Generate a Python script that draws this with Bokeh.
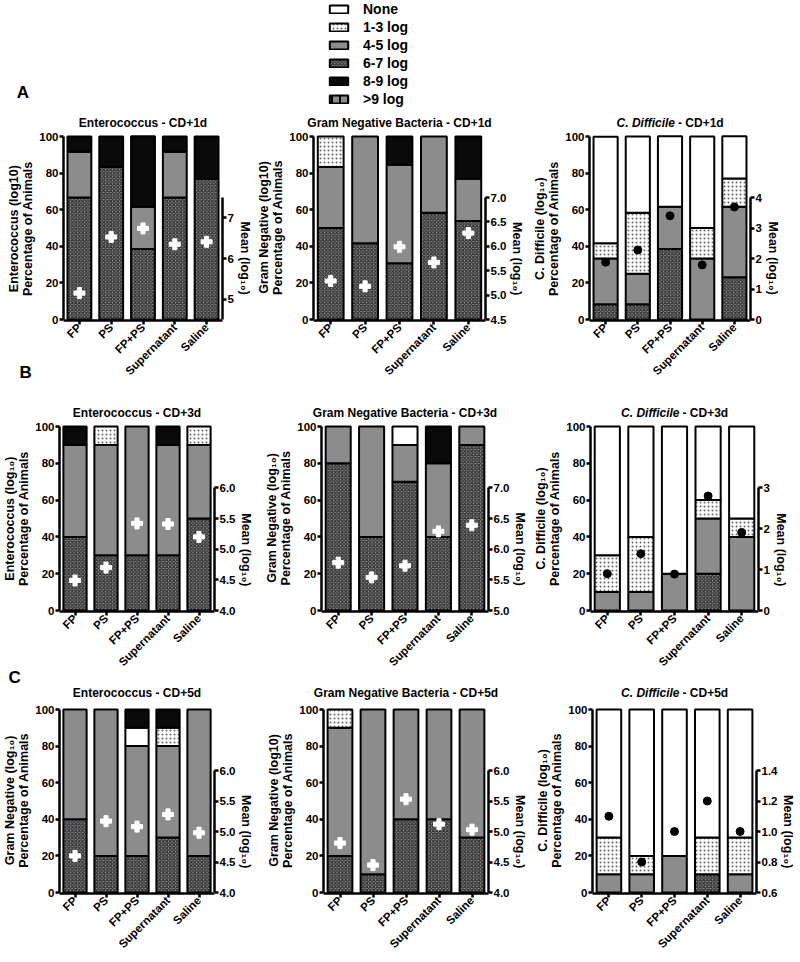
import math
from bokeh.plotting import figure
from bokeh.models import (FactorRange, Range1d, LinearAxis, FixedTicker, Label,
                          Legend, LegendItem, Title)
from bokeh.layouts import column, row
from bokeh.embed import file_html
from bokeh.resources import INLINE

# ---------------- data ----------------
cats = ["FP", "PS", "FP+PS", "Supernatant", "Saline"]
legend_labels = ["None", "1-3 log", "4-5 log", "6-7 log", "8-9 log", ">9 log"]
stack_order = ["6-7 log", "4-5 log", "1-3 log", "None", "8-9 log"]
pct_ticks = [0, 20, 40, 60, 80, 100]

# Row A  (CD+1d)
A1_s67 = [66.7, 83.3, 38.5, 66.7, 76.9]
A1_s45 = [25.0, 0, 23.1, 25.0, 0]
A1_s89 = [8.3, 16.7, 38.5, 8.3, 23.1]
A1_mean = [5.15, 6.53, 6.74, 6.35, 6.41]
A1_ticks = [5, 6, 7]
A1_tick_labels = ["5", "6", "7"]

A2_s67 = [50.0, 41.7, 30.8, 58.3, 53.8]
A2_s45 = [33.3, 58.3, 53.8, 41.7, 23.1]
A2_s13 = [16.7, 0, 0, 0, 0]
A2_s89 = [0, 0, 15.4, 0, 23.1]
A2_mean = [5.29, 5.18, 5.99, 5.67, 6.27]
A2_ticks = [4.5, 5.0, 5.5, 6.0, 6.5, 7.0]
A2_tick_labels = ["4.5", "5.0", "5.5", "6.0", "6.5", "7.0"]

A3_s67 = [8.3, 8.3, 38.5, 0, 23.1]
A3_s45 = [25.0, 16.7, 23.1, 33.3, 38.5]
A3_s13 = [8.3, 33.3, 0, 16.7, 15.4]
A3_none = [58.3, 41.7, 38.5, 50.0, 23.1]
A3_mean = [1.88, 2.28, 3.40, 1.79, 3.69]
A3_ticks = [0, 1, 2, 3, 4]
A3_tick_labels = ["0", "1", "2", "3", "4"]

# Row B  (CD+3d)
B1_s67 = [40, 30, 30, 30, 50]
B1_s45 = [50, 60, 70, 60, 40]
B1_s13 = [0, 10, 0, 0, 10]
B1_s89 = [10, 0, 0, 10, 0]
B1_mean = [4.49, 4.70, 5.42, 5.41, 5.20]
B1_ticks = [4.0, 4.5, 5.0, 5.5, 6.0]
B1_tick_labels = ["4.0", "4.5", "5.0", "5.5", "6.0"]

B2_s67 = [80, 40, 70, 40, 90]
B2_s45 = [20, 60, 20, 40, 10]
B2_none = [0, 0, 10, 0, 0]
B2_s89 = [0, 0, 0, 20, 0]
B2_mean = [5.78, 5.54, 5.73, 6.29, 6.39]
B2_ticks = [5.0, 5.5, 6.0, 6.5, 7.0]
B2_tick_labels = ["5.0", "5.5", "6.0", "6.5", "7.0"]

B3_s67 = [0, 0, 0, 20, 0]
B3_s45 = [10, 10, 20, 30, 40]
B3_s13 = [20, 30, 0, 10, 10]
B3_none = [70, 60, 80, 40, 50]
B3_mean = [0.90, 1.39, 0.89, 2.80, 1.91]
B3_ticks = [0, 1, 2, 3]
B3_tick_labels = ["0", "1", "2", "3"]

# Row C  (CD+5d)
C1_s67 = [40, 20, 20, 30, 20]
C1_s45 = [60, 80, 60, 50, 80]
C1_s13 = [0, 0, 0, 10, 0]
C1_none = [0, 0, 10, 0, 0]
C1_s89 = [0, 0, 10, 10, 0]
C1_mean = [4.60, 5.17, 5.08, 5.28, 4.98]
C1_ticks = [4.0, 4.5, 5.0, 5.5, 6.0]
C1_tick_labels = ["4.0", "4.5", "5.0", "5.5", "6.0"]

C2_s67 = [20, 10, 40, 40, 30]
C2_s45 = [70, 90, 60, 60, 70]
C2_s13 = [10, 0, 0, 0, 0]
C2_mean = [4.81, 4.45, 5.53, 5.12, 5.03]
C2_ticks = [4.0, 4.5, 5.0, 5.5, 6.0]
C2_tick_labels = ["4.0", "4.5", "5.0", "5.5", "6.0"]

C3_s67 = [0, 0, 0, 10, 0]
C3_s45 = [10, 10, 20, 0, 10]
C3_s13 = [20, 10, 0, 20, 20]
C3_none = [70, 80, 80, 70, 70]
C3_mean = [1.10, 0.80, 1.00, 1.20, 1.00]
C3_ticks = [0.6, 0.8, 1.0, 1.2, 1.4]
C3_tick_labels = ["0.6", "0.8", "1.0", "1.2", "1.4"]

# ---------------- style ----------------
FONT = "Liberation Sans"
GRAY = "#8c8c8c"
LABEL_PX = 12.5
NBSP = "\u00a0"
STY = {
    "None": dict(fill_color="white"),
    "1-3 log": dict(fill_color="white", hatch_pattern=".", hatch_color="#222222",
                    hatch_alpha=0.7, hatch_scale=4, hatch_weight=0.6),
    "4-5 log": dict(fill_color=GRAY),
    "6-7 log": dict(fill_color=GRAY, hatch_pattern="x", hatch_color="#1e1e1e",
                    hatch_scale=3.5, hatch_weight=1.0),
    "8-9 log": dict(fill_color="#0a0a0a"),
    ">9 log": dict(fill_color=GRAY, hatch_pattern="|", hatch_color="black",
                   hatch_scale=8, hatch_weight=2),
}


def pad(px):
    return NBSP * max(0, int(round(px / (0.278 * LABEL_PX))))


def style_axis(ax):
    ax.axis_line_width = 2.5
    ax.axis_line_color = "black"
    ax.major_tick_line_width = 2.5
    ax.major_tick_line_color = "black"
    ax.major_tick_out = 4
    ax.major_tick_in = 0
    ax.minor_tick_line_color = None
    ax.major_label_text_font = FONT
    ax.major_label_text_font_style = "bold"
    ax.major_label_text_font_size = "11.5px"
    ax.major_label_text_color = "black"
    ax.major_label_standoff = 1
    ax.axis_label_text_font = FONT
    ax.axis_label_text_font_style = "bold"
    ax.axis_label_text_font_size = "%gpx" % LABEL_PX
    ax.axis_label_text_color = "black"
    ax.axis_label_standoff = 1
    ax.axis_label_text_line_height = 1.0


def make_panel(layers, means, white_marker, lo, hi, ticks, tick_labels,
               label_lines, title_main, title_italic, geom, rowg, mode):
    w, bl, br = geom
    fig_top, fig_h, y100, y0, ytitle, ftop_ext = rowg
    ppu = (y0 - y100) / 100.0
    ftop = ftop_ext if mode == "label" else y100 - 2
    bt = ftop - fig_top
    fbot = y0 + 1
    h_frame = fbot - ftop
    y_start = -1.0 / ppu
    y_end = 100.0 + (y100 - ftop) / ppu
    p = figure(width=w, height=fig_h, x_range=FactorRange(factors=cats),
               y_range=Range1d(y_start, y_end), output_backend="svg",
               toolbar_location=None, title=None,
               min_border_left=bl, min_border_right=br,
               min_border_top=bt, min_border_bottom=fig_h - bt - h_frame)
    if "frame_align" in p.properties():
        p.frame_align = False
    p.outline_line_color = None
    p.grid.visible = False
    p.border_fill_alpha = 0
    p.background_fill_alpha = 0
    k = (hi - lo) / (200.0 / 3.0)
    p.extra_y_ranges = {"mean": Range1d(lo + y_start * k, lo + y_end * k)}

    base = [0.0] * len(cats)
    for name in stack_order:
        vals = layers.get(name)
        if vals is None:
            continue
        top = [b + v for b, v in zip(base, vals)]
        xs = [c for c, v in zip(cats, vals) if v > 0]
        bs = [b for b, v in zip(base, vals) if v > 0]
        ts = [t for t, v in zip(top, vals) if v > 0]
        if xs:
            p.vbar(x=xs, bottom=bs, top=ts, width=0.75, line_color="black",
                   line_width=2, **STY[name])
        base = top

    if white_marker:
        p.scatter(x=cats, y=means, y_range_name="mean", marker="plus", size=11,
                  fill_color="white", line_color="white", line_width=1)
    else:
        p.scatter(x=cats, y=means, y_range_name="mean", marker="circle", size=8,
                  fill_color="black", line_color="black")

    # centre the axis labels on the drawn axis spans, not on the (taller) frame
    fc = (ftop + fbot) / 2.0
    lc = (y100 + y0) / 2.0
    rc = y0 - (y0 - y100) / 3.0
    lpad = pad(2 * (lc - fc))
    rpad = pad(2 * (rc - fc))

    ya = p.yaxis[0]
    style_axis(ya)
    ya.ticker = FixedTicker(ticks=pct_ticks)
    ya.bounds = (0, 100)
    ya.axis_label = "\n".join(line + lpad for line in label_lines)

    xa = p.xaxis[0]
    style_axis(xa)
    xa.major_label_orientation = math.pi / 4

    ra = LinearAxis(y_range_name="mean", bounds=(lo, hi),
                    ticker=FixedTicker(ticks=ticks),
                    major_label_overrides={t: s for t, s in zip(ticks, tick_labels)},
                    axis_label=rpad + "Mean (log\u2081\u2080)")
    style_axis(ra)
    p.add_layout(ra, "right")

    if mode == "label":
        ty = 100.0 + (y100 - ytitle) / ppu
        if title_italic:
            p.add_layout(Label(x=2.5, y=ty, x_offset=5, text=title_italic,
                               text_align="right", text_baseline="middle", text_font=FONT,
                               text_font_style="bold italic", text_font_size="12px",
                               text_color="black"))
            p.add_layout(Label(x=2.5, y=ty, x_offset=8, text=title_main,
                               text_align="left", text_baseline="middle", text_font=FONT,
                               text_font_style="bold", text_font_size="12px",
                               text_color="black"))
        else:
            p.add_layout(Label(x=2.5, y=ty, text=title_main, text_align="center",
                               text_baseline="middle", text_font=FONT,
                               text_font_style="bold", text_font_size="12px",
                               text_color="black"))
    else:
        standoff = 2 * (ftop - (ytitle + 7))
        p.add_layout(Title(text=title_main, align="center", standoff=standoff,
                           text_font=FONT, text_font_style="bold",
                           text_font_size="12px", text_color="black"), "above")
    return p


def letter_title(p, txt, offset, standoff):
    p.add_layout(Title(text=txt, align="left", offset=offset, standoff=standoff,
                       text_font=FONT, text_font_style="bold", text_font_size="17px",
                       text_color="black"), "above")


PCT = "Percentage of Animals"
SUB = "(log\u2081\u2080)"

# row geometry: (figure top, figure height, y of 100, y of 0, title y, extended frame top)
ROW_A = (108, 284, 136, 319, 122, 112)
ROW_B = (344, 339, 426, 610, 412, 394)
ROW_C = (664, 297, 709, 892, 692, 686)

# ---------------- row A ----------------
a1 = make_panel({"6-7 log": A1_s67, "4-5 log": A1_s45, "8-9 log": A1_s89},
                A1_mean, True, 4.5, 7.5, A1_ticks, A1_tick_labels,
                ["Enterococcus (log10)", PCT], "Enterococcus - CD+1d", None,
                (254, 63, 25), ROW_A, "label")
a2 = make_panel({"6-7 log": A2_s67, "4-5 log": A2_s45, "1-3 log": A2_s13, "8-9 log": A2_s89},
                A2_mean, True, 4.5, 7.0, A2_ticks, A2_tick_labels,
                ["Gram Negative (log10)", PCT], "Gram Negative Bacteria - CD+1d", None,
                (276, 59, 45), ROW_A, "title")
a3 = make_panel({"6-7 log": A3_s67, "4-5 log": A3_s45, "1-3 log": A3_s13, "None": A3_none},
                A3_mean, False, 0, 4, A3_ticks, A3_tick_labels,
                ["C. Difficile " + SUB, PCT], "- CD+1d", "C. Difficile",
                (268, 52, 48), ROW_A, "label")

# ---------------- row B ----------------
b1 = make_panel({"6-7 log": B1_s67, "4-5 log": B1_s45, "1-3 log": B1_s13, "8-9 log": B1_s89},
                B1_mean, True, 4.0, 6.0, B1_ticks, B1_tick_labels,
                ["Enterococcus " + SUB, PCT], "Enterococcus - CD+3d", None,
                (256, 50, 38), ROW_B, "label")
letter_title(b1, "B", -40, 26)
b2 = make_panel({"6-7 log": B2_s67, "4-5 log": B2_s45, "None": B2_none, "8-9 log": B2_s89},
                B2_mean, True, 5.0, 7.0, B2_ticks, B2_tick_labels,
                ["Gram Negative " + SUB, PCT], "Gram Negative Bacteria - CD+3d", None,
                (274, 65, 41), ROW_B, "title")
b3 = make_panel({"6-7 log": B3_s67, "4-5 log": B3_s45, "1-3 log": B3_s13, "None": B3_none},
                B3_mean, False, 0, 3, B3_ticks, B3_tick_labels,
                ["C. Difficile " + SUB, PCT], "- CD+3d", "C. Difficile",
                (268, 60, 40), ROW_B, "label")

# ---------------- row C ----------------
c1 = make_panel({"6-7 log": C1_s67, "4-5 log": C1_s45, "1-3 log": C1_s13,
                 "None": C1_none, "8-9 log": C1_s89},
                C1_mean, True, 4.0, 6.0, C1_ticks, C1_tick_labels,
                ["Gram Negative " + SUB, PCT], "Enterococcus - CD+5d", None,
                (256, 52, 36), ROW_C, "label")
letter_title(c1, "C", -51, 0)
c2 = make_panel({"6-7 log": C2_s67, "4-5 log": C2_s45, "1-3 log": C2_s13},
                C2_mean, True, 4.0, 6.0, C2_ticks, C2_tick_labels,
                ["Gram Negative (log10)", PCT], "Gram Negative Bacteria - CD+5d", None,
                (274, 67, 40), ROW_C, "title")
c3 = make_panel({"6-7 log": C3_s67, "4-5 log": C3_s45, "1-3 log": C3_s13, "None": C3_none},
                C3_mean, False, 0.6, 1.4, C3_ticks, C3_tick_labels,
                ["C. Difficile " + SUB, PCT], "- CD+5d", "C. Difficile",
                (268, 62, 38), ROW_C, "label")

# ---------------- legend strip ----------------
lf = figure(width=798, height=108, output_backend="svg", toolbar_location=None,
            x_axis_location=None, y_axis_location=None, min_border=0, title=None,
            x_range=Range1d(0, 1), y_range=Range1d(0, 1))
lf.outline_line_color = None
lf.grid.visible = False
items = []
for name in legend_labels:
    r = lf.vbar(x=[0.5], top=[float("nan")], bottom=[float("nan")], width=0.1,
                line_color="black", line_width=2, **STY[name])
    items.append(LegendItem(label=name, renderers=[r]))
leg = Legend(items=items, location=(327, 0), glyph_width=23, glyph_height=10,
             label_height=18, spacing=0, label_standoff=13, padding=0, margin=0,
             border_line_color=None, background_fill_alpha=0,
             label_text_font=FONT, label_text_font_style="bold",
             label_text_font_size="14px", label_text_color="black")
lf.add_layout(leg)
lf.add_layout(Label(x=22.5, y=16, x_units="screen", y_units="screen", text="A",
                    text_align="center", text_baseline="middle", text_font=FONT,
                    text_font_style="bold", text_font_size="17px", text_color="black"))

layout = column(lf,
                row(a1, a2, a3),
                row(b1, b2, b3, margin=(-48, 0, 0, 0)),
                row(c1, c2, c3, margin=(-19, 0, 0, 0)))
open("out.html", "w").write(file_html(layout, INLINE))
